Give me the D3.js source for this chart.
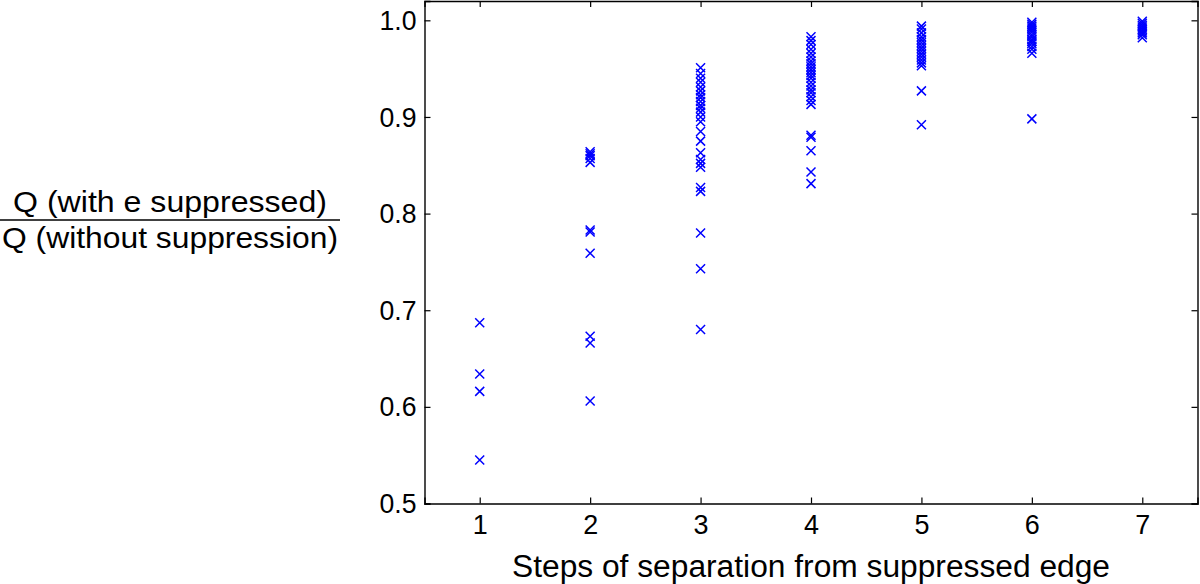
<!DOCTYPE html>
<html>
<head>
<meta charset="utf-8">
<script src="https://cdn.jsdelivr.net/npm/d3@7"></script>
<style>
  html, body { margin: 0; padding: 0; background: #fff; }
  svg text { font-family: "Liberation Sans", Arial, Helvetica, sans-serif; fill: #000; }
</style>
</head>
<body>
<div id="chart"></div>
<script>
// Q ratio per step of separation from suppressed edge
const steps = [1, 2, 3, 4, 5, 6, 7];
const step1 = [0.687, 0.634, 0.616, 0.545];
const step2 = [0.864, 0.862, 0.860, 0.857, 0.853, 0.783, 0.781, 0.759, 0.673, 0.666, 0.606];
const step3 = [0.951, 0.945, 0.940, 0.936, 0.931, 0.927, 0.923, 0.920, 0.916, 0.912, 0.909, 0.905,
               0.900, 0.895, 0.885, 0.875, 0.863, 0.856, 0.852, 0.848, 0.827, 0.823, 0.780, 0.743, 0.680];
const step4 = [0.983, 0.979, 0.975, 0.970, 0.966, 0.962, 0.958, 0.955, 0.952, 0.949, 0.946, 0.943,
               0.940, 0.936, 0.932, 0.928, 0.925, 0.921, 0.917, 0.913, 0.881, 0.879, 0.865, 0.843, 0.831];
const step5 = [0.994, 0.991, 0.987, 0.983, 0.980, 0.977, 0.974, 0.971, 0.968, 0.965, 0.962, 0.959,
               0.956, 0.953, 0.927, 0.892];
const step6 = [0.998, 0.996, 0.994, 0.992, 0.990, 0.988, 0.985, 0.983, 0.980, 0.978, 0.976, 0.973,
               0.970, 0.966, 0.898];
const step7 = [0.999, 0.997, 0.995, 0.993, 0.991, 0.989, 0.987, 0.985, 0.982];
const yTicks = [0.5, 0.6, 0.7, 0.8, 0.9, 1.0];
const yTickLabels = ["0.5", "0.6", "0.7", "0.8", "0.9", "1.0"];

const W = 1200, H = 584;
const m = { left: 424.5, right: 2.5, top: 1, bottom: 80.5 };

const svg = d3.select("#chart").append("svg")
  .attr("width", W).attr("height", H);

const x = d3.scaleLinear().domain([0.5, 7.5]).range([m.left, W - m.right]);
const y = d3.scaleLinear().domain([0.5, 1.02]).range([H - m.bottom, m.top]);

const points = [step1, step2, step3, step4, step5, step6, step7]
  .flatMap((vals, i) => vals.map(v => ({ s: steps[i], v })));

// markers
const r = 4.5;
svg.append("g").selectAll("path")
  .data(points).join("path")
  .attr("d", d => {
    const cx = x(d.s), cy = y(d.v);
    return `M${cx - r},${cy - r}L${cx + r},${cy + r}M${cx - r},${cy + r}L${cx + r},${cy - r}`;
  })
  .attr("stroke", "#0000ff").attr("stroke-width", 1.5).attr("fill", "none");

// axes (MATLAB style box, ticks inward on all sides)
const tl = 6;
const fmt = (v) => yTickLabels[yTicks.indexOf(v)];
const axB = svg.append("g").attr("transform", `translate(0,${y(0.5)})`)
  .call(d3.axisBottom(x).tickValues(steps).tickSize(-tl).tickPadding(10).tickFormat(d3.format("d")));
const axT = svg.append("g").attr("transform", `translate(0,${y(1.02)})`)
  .call(d3.axisTop(x).tickValues(steps).tickSize(-tl).tickFormat(""));
const axL = svg.append("g").attr("transform", `translate(${x(0.5)},0)`)
  .call(d3.axisLeft(y).tickValues(yTicks).tickSize(-tl).tickPadding(8).tickFormat(fmt));
const axR = svg.append("g").attr("transform", `translate(${x(7.5)},0)`)
  .call(d3.axisRight(y).tickValues(yTicks).tickSize(-tl).tickFormat(""));

[axB, axT, axL, axR].forEach(g => {
  g.select(".domain").attr("stroke", "#000").attr("stroke-width", 1.4);
  g.selectAll(".tick line").attr("stroke", "#000").attr("stroke-width", 1.2);
  g.selectAll(".tick text").attr("font-size", 28.5).attr("font-family", null).attr("fill", "#000")
    .attr("lengthAdjust", "spacingAndGlyphs");
});
axB.selectAll(".tick text").attr("dy", "0.71em").attr("textLength", 15);
axL.selectAll(".tick text").attr("textLength", 37);

// x label
svg.append("text")
  .attr("x", (x(0.5) + x(7.5)) / 2).attr("y", 577)
  .attr("text-anchor", "middle").attr("font-size", 31)
  .attr("textLength", 598).attr("lengthAdjust", "spacingAndGlyphs")
  .text("Steps of separation from suppressed edge");

// y label as fraction
const fx = 170;
svg.append("text").attr("x", fx).attr("y", 212).attr("text-anchor", "middle")
  .attr("font-size", 29).attr("textLength", 314).attr("lengthAdjust", "spacingAndGlyphs")
  .text("Q (with e suppressed)");
svg.append("line").attr("x1", 0).attr("x2", 340).attr("y1", 220).attr("y2", 220)
  .attr("stroke", "#000").attr("stroke-width", 1.5);
svg.append("text").attr("x", fx).attr("y", 248).attr("text-anchor", "middle")
  .attr("font-size", 29).attr("textLength", 336).attr("lengthAdjust", "spacingAndGlyphs")
  .text("Q (without suppression)");
</script>
</body>
</html>
